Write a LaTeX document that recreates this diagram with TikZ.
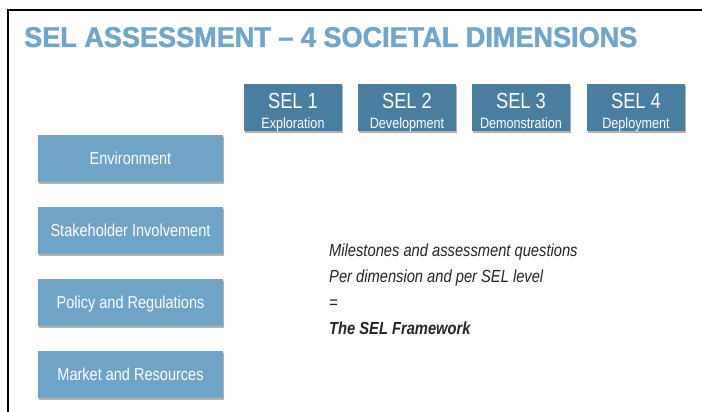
\documentclass[tikz,border=0pt]{standalone}
\usepackage{fontspec}
\setmainfont{Liberation Sans}
\newfontfamily\narrowf[FakeStretch=0.84]{Liberation Sans}
\newfontfamily\titlef[FakeStretch=0.72,FakeBold=1.2]{Liberation Sans}
\usetikzlibrary{shadows}
\definecolor{boxlight}{HTML}{6FA4C6}
\definecolor{boxdark}{HTML}{497EA1}
\definecolor{titleblue}{HTML}{72A6C8}
\begin{document}
\begin{tikzpicture}[x=1pt,y=-1pt,
  boxshadow/.style={drop shadow={shadow xshift=0.8pt, shadow yshift=-2.2pt, fill=black, opacity=0.3}},
  dimbox/.style={boxshadow, fill=boxlight, minimum width=185pt, minimum height=47pt,
    inner sep=0pt, text=white, text height=12.2pt, text depth=0pt,
    font=\narrowf\fontsize{17.3}{20}\selectfont},
  selbox/.style={boxshadow, fill=boxdark, minimum width=98pt, minimum height=47pt, inner sep=0pt},
  selhead/.style={anchor=base, inner sep=0pt, text=white, font=\narrowf\fontsize{21.8}{24}\selectfont},
  selsub/.style={anchor=base, inner sep=0pt, text=white, font=\narrowf\fontsize{15}{17}\selectfont},
  note/.style={anchor=base west, inner sep=0pt, text=black!85, font=\narrowf\itshape\fontsize{17.5}{20}\selectfont}
]
\useasboundingbox (0,0) rectangle (702,412);
\fill[white] (0,0) rectangle (702,412);
% frame
\draw[line width=2pt, line join=miter] (8,413) -- (8,10) -- (703,10);
% title
\node[anchor=base west, inner sep=0pt, text=titleblue] (title) at (24,47)
  {\resizebox{613pt}{20pt}{\titlef\bfseries SEL ASSESSMENT – 4 SOCIETAL DIMENSIONS}};
% SEL level boxes
\node[selbox] (s1) at (293,107.5) {};
\node[selbox] (s2) at (407,107.5) {};
\node[selbox] (s3) at (521,107.5) {};
\node[selbox] (s4) at (636,107.5) {};
\node[selhead] (s1h) at (293,108) {SEL 1};
\node[selhead] (s2h) at (407,108) {SEL 2};
\node[selhead] (s3h) at (521,108) {SEL 3};
\node[selhead] (s4h) at (636,108) {SEL 4};
\node[selsub] (s1s) at (293,128.5) {Exploration};
\node[selsub] (s2s) at (407,128.5) {Development};
\node[selsub] (s3s) at (521,128.5) {Demonstration};
\node[selsub] (s4s) at (636,128.5) {Deployment};
% dimension boxes
\node[dimbox] (env) at (130.5,158.5) {Environment};
\node[dimbox] (stk) at (130.5,230.5) {Stakeholder Involvement};
\node[dimbox] (pol) at (130.5,302.5) {Policy and Regulations};
\node[dimbox] (mkt) at (130.5,374.5) {Market and Resources};
% note
\node[note] (n1) at (329,256) {Milestones and assessment questions};
\node[note] (n2) at (329,282.5) {Per dimension and per SEL level};
\node[note] (n3) at (329,308.5) {=};
\node[note, font=\narrowf\bfseries\itshape\fontsize{17.5}{20}\selectfont] (n4) at (329,334) {The SEL Framework};
\end{tikzpicture}
\end{document}
